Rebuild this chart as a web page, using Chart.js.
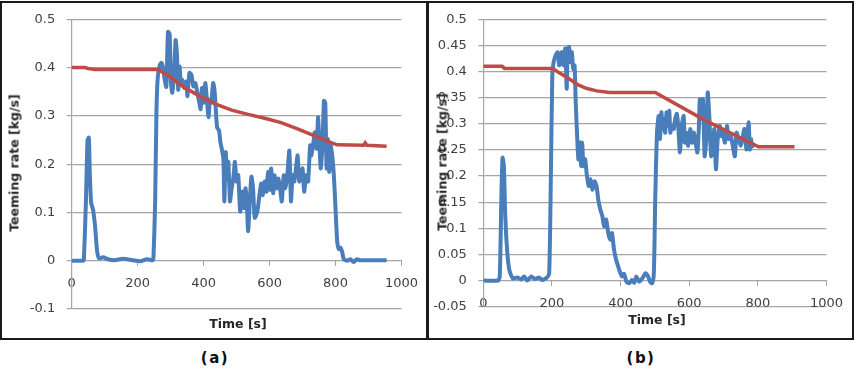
<!DOCTYPE html>
<html>
<head>
<meta charset="utf-8">
<script src="https://cdn.jsdelivr.net/npm/chart.js@4.4.1/dist/chart.umd.min.js"></script>
<style>
body{margin:0;background:#fff;width:856px;height:372px;position:relative;overflow:hidden;font-family:"DejaVu Sans",sans-serif;}
.box{position:absolute;border:2px solid #1a1a1a;box-sizing:border-box;}
canvas{position:absolute;top:0;}
.lbl{position:absolute;font-weight:bold;font-size:12.5px;color:#262626;white-space:nowrap;transform:translate(-50%,-50%);}
.ylbl{transform:translate(-50%,-50%) rotate(-90deg);}
.cap{position:absolute;font-weight:bold;font-size:15px;letter-spacing:1.5px;color:#111;transform:translate(-50%,-50%);}
</style>
</head>
<body>
<div class="box" style="left:0;top:1px;width:429px;height:339px;"></div>
<div class="box" style="left:426px;top:1px;width:428px;height:339px;"></div>
<canvas id="chartA" width="428" height="340" style="left:0;"></canvas>
<canvas id="chartB" width="427" height="340" style="left:426px;"></canvas>
<div class="lbl" style="left:238px;top:323px;">Time [s]</div>
<div class="lbl ylbl" style="left:14px;top:163px;">Teeming rate [kg/s]</div>
<div class="lbl" style="left:657px;top:319px;">Time [s]</div>
<div class="lbl ylbl" style="left:442px;top:162px;">Teeming rate [kg/s]</div>
<div class="cap" style="left:215px;top:358px;">(a)</div>
<div class="cap" style="left:641px;top:358px;">(b)</div>
<script>
// tick labels
const xTicks = [0, 200, 400, 600, 800, 1000];
const yTicksA = [-0.1, 0, 0.1, 0.2, 0.3, 0.4, 0.5];
const yTicksB = [-0.05, 0, 0.05, 0.1, 0.15, 0.2, 0.25, 0.3, 0.35, 0.4, 0.45, 0.5];

// (a) measured teeming rate
const timeA = [0,35,37,43,48,52,55,59,65,71,
  77,83,95,110,130,155,185,210,228,245,
  248,253,257,261,267,272,277,282,287,292,
  297,301,305,311,315,319,323,327,331,335,
  341,347,351,357,363,369,375,381,387,391,
  395,399,405,410,415,419,423,429,433,437,
  441,447,451,455,460,463,467,471,475,480,
  485,490,495,500,505,511,517,523,527,531,
  535,540,545,550,555,563,570,575,580,585,
  591,595,601,605,611,615,621,627,633,637,
  643,647,653,660,665,670,675,680,685,690,
  695,700,705,711,717,723,727,733,737,743,
  747,751,755,760,765,769,773,777,781,785,
  790,795,800,805,810,815,820,825,835,845,
  855,865,875,895,955];
const rateA = [0,0,.002,.12,.25,.255,.18,.12,.105,.07,
  .02,.005,.007,.003,.001,.004,.001,-.001,.003,.001,
  .007,.12,.307,.38,.405,.41,.40,.375,.36,.474,
  .47,.368,.348,.395,.457,.43,.354,.402,.368,.375,
  .358,.371,.341,.389,.385,.361,.368,.348,.327,.314,
  .358,.327,.368,.334,.297,.334,.327,.368,.354,.314,
  .276,.269,.245,.232,.211,.123,.225,.17,.205,.123,
  .15,.17,.205,.164,.177,.102,.143,.109,.15,.123,
  .061,.123,.174,.15,.089,.102,.14,.16,.136,.164,
  .143,.184,.147,.191,.14,.177,.15,.17,.143,.123,
  .177,.15,.17,.228,.123,.177,.164,.191,.218,.164,
  .177,.191,.143,.177,.164,.239,.218,.245,.266,.232,
  .297,.245,.191,.232,.331,.327,.191,.252,.184,.239,
  .218,.177,.109,.041,.024,.027,.019,.003,0,.003,
  -.003,.003,.001,.001,.001];
// (a) set rate
const setTimeA = [0,40,50,70,262,300,335,385,435,485,535,585,635,685,735,785,805,885,890,895,955];
const setRateA = [.4,.4,.398,.396,.396,.38,.362,.342,.325,.312,.303,.295,.286,.273,.259,.245,.24,.239,.244,.239,.237];

// (b) measured teeming rate
const timeB = [0,43,48,52.5,56,60,64,70,76,86,
  100,110,119,128,140,150,162,172,186,192,
  196,201,205,211,217,221,224,229,234,239,
  243,246,250,254,258,262,266,269,273,277,
  281,285,288,292,297,301,307,312,318,324,
  330,335,341,347,352,358,364,370,375,381,
  387,393,398,404,410,417,425,433,440,446,
  454,463,473,480,486,492,497,501,506,511,
  515,519,523,526,530,534,538,542,545,549,
  555,559,564,568,573,578,584,587,592,597,
  603,608,614,620,624,628,631,635,640,645,
  650,654,659,664,670,673,678,683,689,692,
  698,704,710,715,721,727,733,738,744,750,
  755,761,767,773,777,780,784];
const rateB = [0,0,.008,.155,.235,.219,.123,.053,.02,.004,
  .006,.002,.008,0,.008,.003,.006,.001,.006,.014,
  .155,.392,.418,.431,.437,.412,.418,.437,.412,.444,
  .367,.444,.447,.418,.437,.405,.412,.347,.283,.232,
  .264,.219,.264,.219,.232,.206,.181,.194,.174,.19,
  .181,.155,.136,.123,.104,.117,.091,.078,.091,.059,
  .04,.027,.017,.008,.013,-.002,-.005,.001,-.004,.008,
  -.002,.004,.014,.008,-.002,-.005,.014,.155,.283,.315,
  .271,.322,.29,.309,.283,.322,.296,.325,.283,.296,
  .29,.309,.319,.296,.245,.296,.315,.264,.283,.258,
  .29,.264,.283,.258,.245,.29,.347,.309,.347,.238,
  .271,.36,.309,.238,.258,.29,.213,.271,.296,.277,
  .283,.264,.296,.271,.277,.258,.238,.283,.271,.258,
  .271,.29,.251,.303,.251,.271,.253];
// (b) set rate
const setTimeB = [0,55,62,196,205,220,248,275,300,330,368,501,645,802,907];
const setRateB = [.41,.41,.406,.406,.405,.398,.387,.375,.368,.363,.36,.36,.307,.256,.256];

const gridGrey = "#a5a5a5";
const tickFont = {family: "DejaVu Sans", size: 13};

function pairs(xs, ys){
    return xs.map((x, i) => ({x: x, y: ys[i]}));
}

function makeChart(id, blueT, blueV, redT, redV, yTicks, pad, yWidth){
    new Chart(document.getElementById(id), {
        type: "line",
        data: {
            datasets: [{
                data: pairs(redT, redV),
                borderColor: "#be4b48",
                borderWidth: 3.5,
                pointRadius: 0,
                tension: 0
            }, {
                data: pairs(blueT, blueV),
                borderColor: "#4a7ebb",
                borderWidth: 4,
                pointRadius: 0,
                tension: 0.2,
                borderJoinStyle: "round"
            }]
        },
        options: {
            responsive: false,
            animation: false,
            layout: {padding: pad},
            plugins: {legend: {display: false}, tooltip: {enabled: false}},
            scales: {
                x: {
                    type: "linear",
                    position: {y: 0},
                    min: xTicks[0],
                    max: xTicks[xTicks.length - 1],
                    afterBuildTicks: s => { s.ticks = xTicks.map(v => ({value: v})); },
                    afterFit: s => { s.height = 0; },
                    ticks: {callback: v => String(v), font: tickFont, color: "#404040", padding: 10, maxRotation: 0, autoSkip: false},
                    grid: {drawOnChartArea: false, drawTicks: true, tickLength: 5, color: gridGrey},
                    border: {color: gridGrey}
                },
                y: {
                    min: yTicks[0],
                    max: yTicks[yTicks.length - 1],
                    afterBuildTicks: s => { s.ticks = yTicks.map(v => ({value: v})); },
                    afterFit: s => { s.width = yWidth; },
                    ticks: {callback: v => String(+v.toFixed(2)), font: tickFont, color: "#404040", padding: 11.5},
                    grid: {color: gridGrey, lineWidth: 1.2, tickLength: 5},
                    border: {color: gridGrey, width: 1.2}
                }
            }
        }
    });
}

makeChart("chartA", timeA, rateA, setTimeA, setRateA, yTicksA, {left: 0, top: 15.7, right: 23, bottom: 31}, 71.7);
makeChart("chartB", timeB, rateB, setTimeB, setRateB, yTicksB, {left: 0, top: 19, right: 20.7, bottom: 33.3}, 57.3);
</script>
</body>
</html>
